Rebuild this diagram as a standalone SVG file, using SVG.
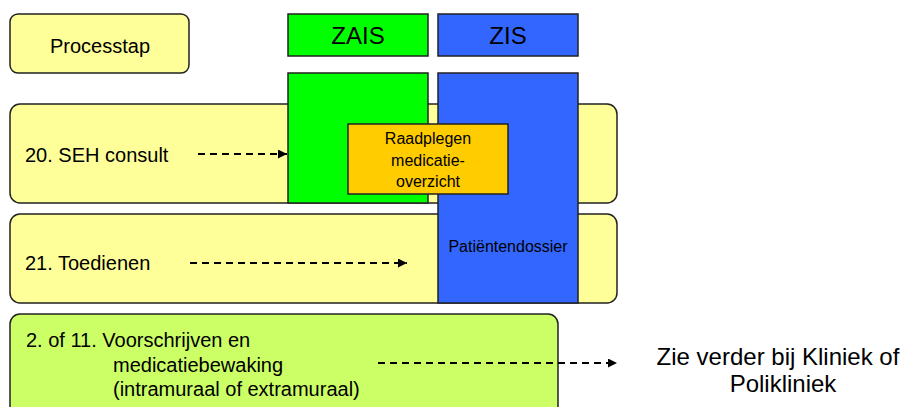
<svg xmlns="http://www.w3.org/2000/svg" width="904" height="407" viewBox="0 0 904 407">
<style>
  text { font-family: "Liberation Sans", Arial, sans-serif; fill: #000; }
  .box { stroke: #222; stroke-width: 1.5; }
  .row { fill: #FFFF99; }
  .zais { fill: #00FF00; }
  .zis { fill: #3366FF; }
  .conn { stroke: #000; stroke-width: 1.8; stroke-dasharray: 7 5; fill: none; }
</style>
<defs>
  <marker id="arr" viewBox="0 0 10 10" refX="10" refY="5" markerWidth="9" markerHeight="9" markerUnits="userSpaceOnUse" orient="auto">
    <path d="M0,0 L10,5 L0,10 Z" fill="#000"/>
  </marker>
</defs>

<g id="legend-processtap">
  <rect class="box row" x="10" y="14" width="179" height="59" rx="8"/>
  <text x="100" y="53" font-size="20" text-anchor="middle">Processtap</text>
</g>

<g id="row-seh">
  <rect class="box row" x="10" y="104" width="607" height="99" rx="10"/>
  <text x="25" y="162" font-size="20">20. SEH consult</text>
</g>

<g id="row-toedienen">
  <rect class="box row" x="10" y="214" width="607" height="89" rx="10"/>
  <text x="25" y="270" font-size="20">21. Toedienen</text>
</g>

<g id="row-voorschrijven">
  <rect class="box" fill="#CCFF66" x="10" y="314" width="548" height="110" rx="10"/>
  <text x="26" y="347" font-size="20">2. of 11. Voorschrijven en</text>
  <text x="113" y="372" font-size="20">medicatiebewaking</text>
  <text x="113" y="396" font-size="20">(intramuraal of extramuraal)</text>
</g>

<g id="header-zais">
  <rect class="box zais" x="288" y="14" width="140" height="42"/>
  <text x="358" y="44" font-size="24" text-anchor="middle">ZAIS</text>
</g>

<g id="header-zis">
  <rect class="box zis" x="438" y="14" width="140" height="42"/>
  <text x="508" y="44" font-size="24" text-anchor="middle">ZIS</text>
</g>

<g id="column-zais">
  <rect class="box zais" x="288" y="73" width="140" height="130"/>
</g>

<g id="column-zis">
  <rect class="box zis" x="438" y="73" width="140" height="230"/>
  <text x="508" y="252" font-size="16" text-anchor="middle">Patiëntendossier</text>
</g>

<g id="raadplegen">
  <rect class="box" fill="#FFCC00" x="348" y="124" width="160" height="70"/>
  <text x="428" y="144" font-size="16" text-anchor="middle">Raadplegen</text>
  <text x="428" y="166" font-size="16" text-anchor="middle">medicatie-</text>
  <text x="428" y="187" font-size="16" text-anchor="middle">overzicht</text>
</g>

<g id="zie-verder">
  <text x="778" y="365" font-size="24" text-anchor="middle">Zie verder bij Kliniek of</text>
  <text x="783" y="392" font-size="24" text-anchor="middle">Polikliniek</text>
</g>

<g id="connectors">
  <line class="conn" x1="198" y1="154" x2="287" y2="154" marker-end="url(#arr)"/>
  <line class="conn" x1="190" y1="263" x2="407" y2="263" marker-end="url(#arr)"/>
  <line class="conn" x1="378" y1="363" x2="617" y2="363" marker-end="url(#arr)"/>
</g>
</svg>
